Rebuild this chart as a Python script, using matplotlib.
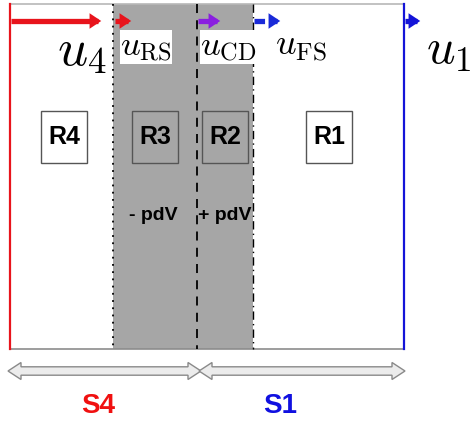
import matplotlib.pyplot as plt
from matplotlib.patches import Rectangle, FancyArrowPatch, Polygon

plt.rcParams["mathtext.fontset"] = "cm"

# diagram content
region_labels = ["R4", "R3", "R2", "R1"]
velocity_labels = [r"$u_4$", r"$u_{\rm RS}$", r"$u_{\rm CD}$", r"$u_{\rm FS}$", r"$u_1$"]
work_labels = ["- pdV", "+ pdV"]
state_labels = ["S4", "S1"]

# layout in pixel coordinates (y downwards)
x_left, x_rs, x_cd, x_fs, x_right = 10, 113, 197, 253, 404
y_top, y_bot = 4, 349
gray = "#a6a6a6"


def double_arrow(x0, x1, y, body=4.2, head=8.5, head_len=13):
    pts = [
        (x0, y), (x0 + head_len, y - head), (x0 + head_len, y - body),
        (x1 - head_len, y - body), (x1 - head_len, y - head), (x1, y),
        (x1 - head_len, y + head), (x1 - head_len, y + body),
        (x0 + head_len, y + body), (x0 + head_len, y + head),
    ]
    return Polygon(pts, closed=True, fc="#ececec", ec="#8a8a8a", lw=1.0, zorder=3)


fig = plt.figure(figsize=(4.71, 4.22), dpi=100)
ax = fig.add_axes([0, 0, 1, 1])
ax.set_xlim(0, 471)
ax.set_ylim(422, 0)
ax.axis("off")

# shaded shell between reverse and forward shock
ax.add_patch(Rectangle((x_rs, y_top), x_fs - x_rs, y_bot - y_top, fc=gray, ec="none", zorder=1))
ax.plot([x_left, x_right], [y_top, y_top], color="#b8b8b8", lw=1.2, zorder=2)
ax.plot([x_left, x_right], [y_bot, y_bot], color="#8c8c8c", lw=1.2, zorder=2)

# boundaries
ax.plot([x_left, x_left], [y_top, y_bot], color="#e8141c", lw=1.6, zorder=3)
ax.plot([x_right, x_right], [y_top, y_bot], color="#1414d8", lw=1.6, zorder=3)
ax.plot([x_rs, x_rs], [y_top, y_bot], color="black", lw=1.3, ls=(0, (1, 3)), zorder=3)
ax.plot([x_cd, x_cd], [y_top, y_bot], color="black", lw=1.3, ls=(0, (5, 4)), zorder=3)
ax.plot([x_fs, x_fs], [y_top, y_bot], color="black", lw=1.0, ls=(0, (6, 3, 1, 3)), zorder=3)

# velocity arrows
y_arr = 21
arrows = [
    (x_left + 1, 104, "#e8141c", "-"),
    (x_rs + 2, 134, "#e8141c", (0, (1, 0.6))),
    (x_cd + 1, 223, "#8a1ee0", (0, (2, 1))),
    (x_fs + 1, 283, "#1a2ad8", (0, (2, 1))),
    (x_right + 1, 423, "#1414d8", "-"),
]
for x0, x1, col, ls in arrows:
    ax.plot([x0, x1 - 6], [y_arr, y_arr], color=col, lw=3.8, ls=ls, solid_capstyle="butt", zorder=4)
    ax.add_patch(FancyArrowPatch((x1 - 9, y_arr), (x1, y_arr), arrowstyle="-|>,head_length=0.6,head_width=0.4",
                                 mutation_scale=14, color=col, lw=0, zorder=5))

label_pos = [(82, 50, None), (146, 47, "white"), (228, 47, "white"), (301, 47, None), (449, 50, None)]
for lab, (x, y, bg), size in zip(velocity_labels, label_pos, [38, 25, 25, 26, 36]):
    bbox = dict(fc=bg, ec="none", pad=0.1) if bg else None
    ax.text(x, y, lab, fontsize=size, ha="center", va="center", color="black", bbox=bbox, zorder=6)

# region boxes
box_x = [41, 132, 202, 306]
for lab, bx in zip(region_labels, box_x):
    fc = gray if bx in (132, 202) else "white"
    ax.add_patch(Rectangle((bx, 111), 46, 52, fc=fc, ec="#555555", lw=1.0, zorder=6))
    ax.text(bx + 23, 137, lab, fontsize=18, fontweight="bold", family="Liberation Sans",
            ha="center", va="center", zorder=7)

for lab, x in zip(work_labels, [153, 225]):
    ax.text(x, 216, lab, fontsize=14, fontweight="bold", family="Liberation Sans",
            ha="center", va="center", zorder=7)

# state extent arrows
for x0, x1 in [(8, 201), (199, 405)]:
    ax.add_patch(double_arrow(x0, x1, 371))

for lab, x, col in zip(state_labels, [98, 280], ["#f01010", "#1010e0"]):
    ax.text(x, 406, lab, fontsize=20, fontweight="bold", family="Liberation Sans", color=col,
            ha="center", va="center")

fig.savefig("out.png", dpi=100)
